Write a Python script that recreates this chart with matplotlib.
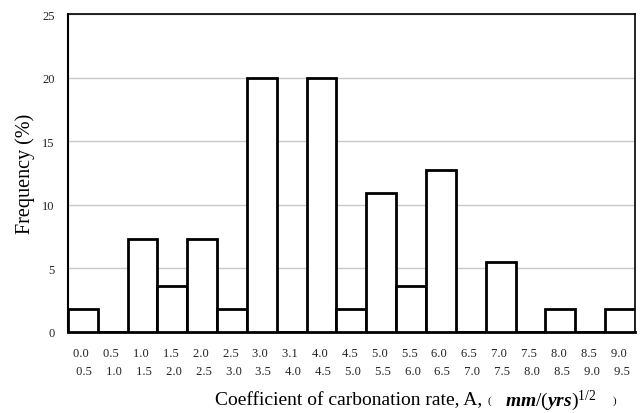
import matplotlib
matplotlib.use("Agg")
import matplotlib.pyplot as plt
import numpy as np

plt.rcParams['font.family'] = ['Liberation Serif', 'DejaVu Serif']
plt.rcParams['mathtext.fontset'] = 'custom'
plt.rcParams['mathtext.rm'] = 'Liberation Serif'
plt.rcParams['mathtext.it'] = 'Liberation Serif:italic:bold'
plt.rcParams['mathtext.bf'] = 'Liberation Serif:bold'

# bin limits (lower / upper) as printed under the bars
bin_low = ["0.0", "0.5", "1.0", "1.5", "2.0", "2.5", "3.0", "3.1", "4.0", "4.5",
           "5.0", "5.5", "6.0", "6.5", "7.0", "7.5", "8.0", "8.5", "9.0"]
bin_high = ["0.5", "1.0", "1.5", "2.0", "2.5", "3.0", "3.5", "4.0", "4.5", "5.0",
            "5.5", "6.0", "6.5", "7.0", "7.5", "8.0", "8.5", "9.0", "9.5"]
freq = [1.8, 0, 7.3, 3.6, 7.3, 1.8, 20.0, 0, 20.0, 1.8,
        10.9, 3.6, 12.7, 0, 5.5, 0, 1.8, 0, 1.8]

fig = plt.figure(figsize=(6.4, 4.14), dpi=100)
ax = fig.add_axes([0.106, 0.1957, 0.886, 0.768])

x = np.arange(len(freq))
ax.bar(x, freq, width=1.0, color="white", edgecolor="black", linewidth=2.0, zorder=3)

ax.set_xlim(-0.5, len(freq) - 0.5)
ax.set_ylim(0, 25)
ax.set_yticks([0, 5, 10, 15, 20, 25])
ax.yaxis.grid(True, color="#c8c8c8", linewidth=1.0, zorder=0)
ax.set_axisbelow(True)

labels = [lo + " \n " + hi for lo, hi in zip(bin_low, bin_high)]
ax.set_xticks(x)
ax.set_xticklabels(labels, fontsize=9, multialignment="center", linespacing=1.65,
                   color="#222222")
ax.tick_params(axis="x", length=0, pad=11)
ax.tick_params(axis="y", length=0, pad=9.5, labelsize=9, labelcolor="#222222")

for s in ["top", "right"]:
    ax.spines[s].set_linewidth(1.2)
ax.spines["left"].set_linewidth(1.5)
ax.spines["bottom"].set_linewidth(2.0)

ax.set_ylabel("Frequency (%)", fontsize=14.5, labelpad=5)

# x axis title, built from pieces like the original
ty = 1 - 401 / 414
fig.text(215 / 640, ty, "Coefficient of carbonation rate, A,", fontsize=14,
         ha="left", va="center")
fig.text(488 / 640, ty, "(", fontsize=8, ha="left", va="center")
fig.text(505 / 640, ty, r"$mm/(yrs)^{1/2}$", fontsize=14, ha="left", va="center")
fig.text(613 / 640, ty, ")", fontsize=8, ha="left", va="center")

plt.savefig("out.png", dpi=100)
